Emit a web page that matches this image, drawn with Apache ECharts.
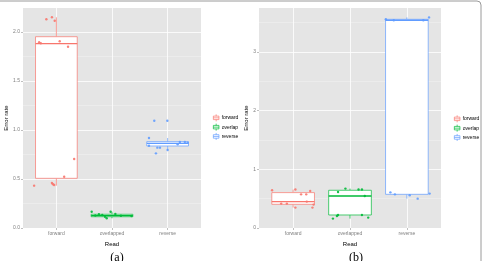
<!DOCTYPE html>
<html>
<head>
<meta charset="utf-8">
<script src="https://cdn.jsdelivr.net/npm/echarts@6/dist/echarts.min.js"></script>
<style>
  html, body { margin: 0; padding: 0; background: #fff; }
  #main { width: 483px; height: 261px; }
</style>
</head>
<body>
<div id="main"></div>
<script>
// x axis categories and legend names
var categories = ['forward', 'overlapped', 'reverse'];
var groups = ['forward', 'overlap', 'reverse'];
var colors = ['#F8766D', '#00BA38', '#619CFF'];

// y tick labels per panel
var yTicksA = [0, 0.5, 1, 1.5, 2];
var yTicksB = [0, 1, 2, 3];

// box stats per group: [lowWhisker, q1, median, q3, highWhisker]
var boxA = [
  [0.432, 0.507, 1.881, 1.952, 2.15],
  [0.099, 0.115, 0.126, 0.140, 0.166],
  [0.796, 0.837, 0.864, 0.881, 0.918]
];
var boxB = [
  [0.348, 0.404, 0.450, 0.603, 0.655],
  [0.160, 0.222, 0.545, 0.643, 0.672],
  [0.500, 0.574, 3.540, 3.557, 3.590]
];

// jittered points: [x offset from category, error rate]
var ptsA = [
  [[-0.18, 2.13], [-0.08, 2.15], [-0.03, 2.115], [-0.31, 1.895], [-0.28, 1.885], [0.06, 1.905], [0.21, 1.85],
   [0.32, 0.704], [0.14, 0.523], [-0.40, 0.432], [-0.08, 0.459], [-0.06, 0.446], [-0.04, 0.439]],
  [[-0.365, 0.166], [-0.235, 0.14], [-0.175, 0.133], [-0.095, 0.099], [-0.025, 0.166], [0.06, 0.143],
   [-0.125, 0.115], [0.35, 0.122], [0.16, 0.125], [-0.30, 0.128]],
  [[-0.24, 1.095], [-0.005, 1.095], [-0.335, 0.918], [-0.335, 0.84], [-0.185, 0.82], [-0.137, 0.82],
   [-0.21, 0.762], [0.0, 0.796], [0.18, 0.854], [0.22, 0.878], [0.31, 0.878], [0.36, 0.87]]
];
var ptsB = [
  [[-0.37, 0.643], [0.04, 0.655], [0.14, 0.574], [0.23, 0.574], [0.30, 0.63], [-0.21, 0.416],
   [-0.11, 0.416], [0.04, 0.348], [0.24, 0.45], [0.34, 0.348], [0.36, 0.399]],
  [[-0.08, 0.672], [-0.21, 0.614], [0.15, 0.655], [0.21, 0.655], [0.26, 0.545], [-0.21, 0.222],
   [-0.23, 0.205], [-0.30, 0.16], [0.21, 0.222], [0.32, 0.177]],
  [[-0.37, 3.557], [-0.23, 3.54], [0.29, 3.54], [0.39, 3.59], [-0.29, 0.608], [-0.21, 0.574],
   [0.05, 0.557], [0.19, 0.50], [0.40, 0.586]]
];

var chart = echarts.init(document.getElementById('main'));

var tickFont = { fontSize: 5, color: '#7f7f7f', fontFamily: 'Liberation Sans' };
var nameFont = { fontSize: 6, color: '#000', fontFamily: 'Liberation Sans' };

function xAxisCfg(gi) {
  return {
    type: 'value', gridIndex: gi, min: 0.4, max: 3.6,
    axisLine: { show: false },
    axisTick: { show: true, length: 2, customValues: [1, 2, 3], lineStyle: { color: '#7f7f7f', width: 0.5 } },
    axisLabel: Object.assign({ customValues: [1, 2, 3], margin: 3,
      formatter: function (v) { return categories[Math.round(v) - 1] || ''; } }, tickFont),
    splitLine: { show: true, lineStyle: { color: '#fff', width: 0.8 } },
    name: 'Read', nameLocation: 'middle', nameGap: 9, nameTextStyle: nameFont
  };
}
function yAxisCfg(gi, max, interval, ticks, fmt, gap) {
  return {
    type: 'value', gridIndex: gi, min: 0, max: max, interval: interval,
    axisLine: { show: false },
    axisTick: { show: true, length: 2, customValues: ticks, lineStyle: { color: '#7f7f7f', width: 0.5 } },
    axisLabel: Object.assign({ margin: 3, customValues: ticks, formatter: fmt }, tickFont),
    splitLine: { show: true, lineStyle: { color: '#fff', width: 0.8 } },
    minorTick: { show: false, splitNumber: 2 },
    minorSplitLine: { show: true, lineStyle: { color: '#f2f2f2', width: 0.5 } },
    name: 'Error rate', nameLocation: 'middle', nameGap: gap, nameTextStyle: nameFont
  };
}

function boxRender(params, api) {
  var x = api.value(0);
  var lo = api.coord([x, api.value(1)]);
  var q1 = api.coord([x - 0.375, api.value(2)]);
  var md = api.value(3);
  var q3 = api.coord([x + 0.375, api.value(4)]);
  var hi = api.coord([x, api.value(5)]);
  var mL = api.coord([x - 0.375, md]);
  var mR = api.coord([x + 0.375, md]);
  var c = api.visual('color');
  var st = { stroke: c, lineWidth: 0.7, fill: null };
  return {
    type: 'group',
    children: [
      { type: 'line', shape: { x1: hi[0], y1: hi[1], x2: hi[0], y2: q3[1] }, style: st },
      { type: 'line', shape: { x1: lo[0], y1: q1[1], x2: lo[0], y2: lo[1] }, style: st },
      { type: 'rect', shape: { x: q1[0], y: q3[1], width: q3[0] - q1[0], height: q1[1] - q3[1] },
        style: { fill: '#fff', stroke: c, lineWidth: 0.7 } },
      { type: 'line', shape: { x1: mL[0], y1: mL[1], x2: mR[0], y2: mR[1] }, style: { stroke: c, lineWidth: 1.4 } }
    ]
  };
}

var series = [];
[[boxA, ptsA, 0], [boxB, ptsB, 1]].forEach(function (panel) {
  var box = panel[0], pts = panel[1], gi = panel[2];
  groups.forEach(function (g, i) {
    series.push({
      type: 'custom', name: g, xAxisIndex: gi, yAxisIndex: gi,
      itemStyle: { color: colors[i], borderColor: colors[i] },
      renderItem: boxRender,
      encode: { x: 0, y: [1, 2, 3, 4, 5] },
      data: [[i + 1].concat(box[i])],
      silent: true, z: 2
    });
    series.push({
      type: 'scatter', name: g, xAxisIndex: gi, yAxisIndex: gi,
      symbolSize: 2.4,
      itemStyle: { color: colors[i], opacity: 0.9 },
      data: pts[i].map(function (p) { return [i + 1 + p[0], p[1]]; }),
      silent: true, z: 3
    });
  });
});

var keyIcon = 'path://M5,0 L5,2.5 M1,2.5 L9,2.5 L9,7.5 L1,7.5 Z M1,5 L9,5 M5,7.5 L5,10';
function legendCfg(left, top) {
  return {
    data: groups, orient: 'vertical', left: left, top: top,
    icon: keyIcon, itemWidth: 7, itemHeight: 7, itemGap: 1.6,
    itemStyle: { color: '#fff', borderWidth: 0.7 },
    textStyle: { fontSize: 5, color: '#000', fontFamily: 'Liberation Sans', padding: [0, 0, 0, -3] },
    selectedMode: false
  };
}

chart.setOption({
  animation: false,
  grid: [
    { left: 23, top: 8, width: 178, height: 220, show: true, backgroundColor: '#e5e5e5', borderWidth: 0 },
    { left: 259, top: 8, width: 182, height: 220, show: true, backgroundColor: '#e5e5e5', borderWidth: 0 }
  ],
  xAxis: [xAxisCfg(0), xAxisCfg(1)],
  yAxis: [
    yAxisCfg(0, 2.245, 0.5, yTicksA, function (v) { return v.toFixed(1); }, 13),
    yAxisCfg(1, 3.75, 1, yTicksB, function (v) { return String(v); }, 9)
  ],
  legend: [legendCfg(208, 109), legendCfg(449, 110)],
  title: [
    { text: '(a)', left: 112, top: 247, textAlign: 'center',
      textStyle: { fontSize: 12, fontWeight: 'normal', fontFamily: 'Liberation Serif', color: '#000' } },
    { text: '(b)', left: 351, top: 247, textAlign: 'center',
      textStyle: { fontSize: 12, fontWeight: 'normal', fontFamily: 'Liberation Serif', color: '#000' } }
  ],
  graphic: [
    { type: 'rect', shape: { x: -10, y: 1, width: 491, height: 275, r: 4 },
      style: { fill: null, stroke: '#9a9a9a', lineWidth: 1 }, silent: true }
  ],
  series: series
});
</script>
</body>
</html>
